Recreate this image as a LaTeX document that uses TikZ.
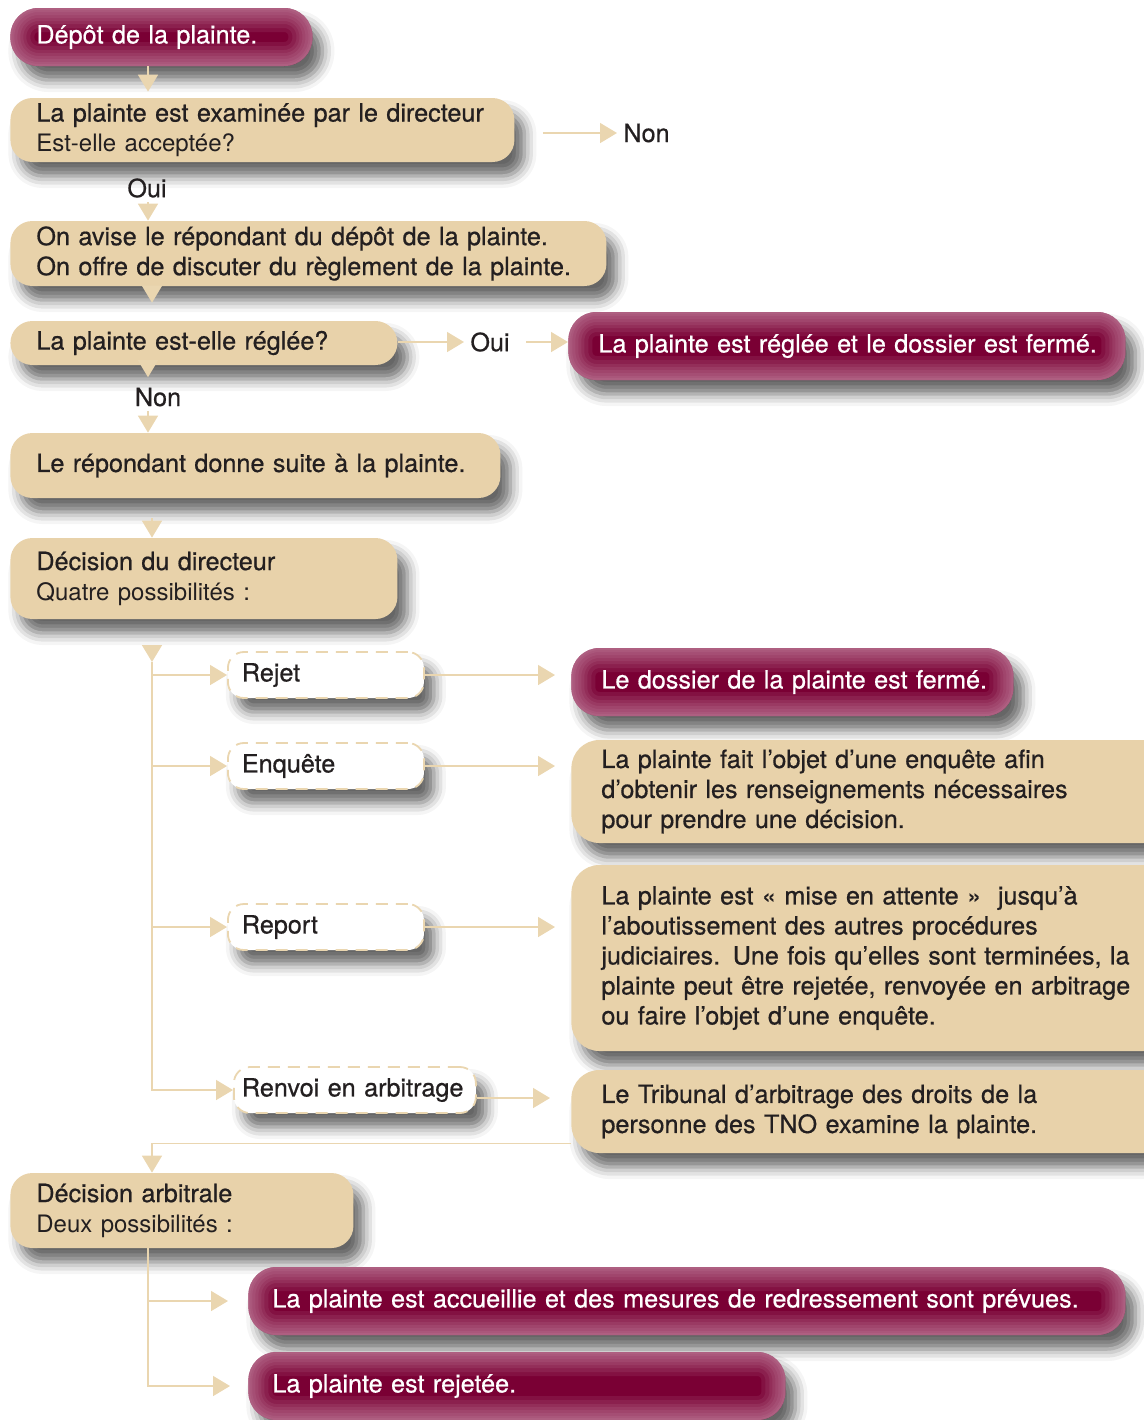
\documentclass[tikz,border=0pt]{standalone}
\usepackage{fontspec}
\setmainfont{TeX Gyre Heros}
\newfontfamily\medium{TeX Gyre Heros}[FakeBold=0.6]
\usetikzlibrary{arrows.meta, shadows.blur, positioning}
\definecolor{tanfill}{RGB}{232,210,170}
\definecolor{tanline}{RGB}{234,214,176}
\definecolor{wine}{RGB}{122,0,52}
\definecolor{rim}{RGB}{212,160,184}
\definecolor{ink}{RGB}{35,31,32}
\newcommand\mainsize{\fontsize{12.6pt}{15pt}\selectfont}
\newcommand\lite[1]{{\normalfont\fontsize{12pt}{15pt}\selectfont #1}}

\tikzset{
  softshadow/.style={blur shadow={shadow xshift=5pt, shadow yshift=-7pt, shadow blur radius=6pt, shadow opacity=60}},
  tanbox/.style={softshadow, fill=tanfill, rounded corners=11pt, anchor=west, align=left, inner xsep=13pt, inner ysep=0pt, text=ink, font=\medium\mainsize},
  winebox/.style={softshadow, fill=wine, rounded corners=14pt, anchor=west, align=left, inner xsep=13pt, inner ysep=0pt, text=white, font=\medium\mainsize,
    path picture={
      \foreach \rimw in {24pt, 20pt, 16pt, 13pt, 10pt, 7pt, 4pt, 2pt}
        \draw[rim, line width=\rimw, opacity=0.11, rounded corners=14pt] (path picture bounding box.south west) rectangle (path picture bounding box.north east);}},
  optbox/.style={softshadow, fill=white, draw=tanline, line width=0.9pt, dash pattern=on 6pt off 4pt, rounded corners=8pt, anchor=west, align=left, inner xsep=7pt, inner ysep=0pt, text=ink, font=\medium\mainsize},
  link/.style={draw=tanline, line width=0.8pt, -{Triangle[width=10pt,length=8.5pt]}},
  tag/.style={inner sep=2pt, text=ink, font=\medium\mainsize}
}

\begin{document}
\begin{tikzpicture}[x=0.5pt, y=-0.5pt]
  \useasboundingbox (0,0) rectangle (1144,1420);
  \coordinate (c1) at (148,0);
  \coordinate (c2) at (152,0);

  % left column
  \node[winebox, text width=125pt, minimum height=29pt] (dep) at (10,37) {Dépôt de la plainte.};
  \node[tanbox, text width=226pt, minimum height=32pt] (exam) at (10,130) {La plainte est examinée par le directeur\\\lite{Est-elle acceptée?}};
  \node[tag, anchor=west] (non1) at (619,133) {Non};
  \node[tag] (oui1) at (147,188) {Oui};
  \node[tanbox, text width=272pt, minimum height=32.5pt] (avise) at (10,253.5) {On avise le répondant du dépôt de la plainte.\\On offre de discuter du règlement de la plainte.};
  \node[tanbox, text width=167.5pt, minimum height=22pt] (regl) at (10,343) {La plainte est-elle réglée?};
  \node[tag, anchor=west] (oui2) at (466,342) {Oui};
  \node[winebox, inner xsep=15pt, text width=248.5pt, minimum height=34pt] (regfer) at (568,346) {\mbox{La plainte est réglée et le dossier est fermé.}};
  \node[tag] (non2) at (158,397) {Non};
  \node[tanbox, text width=219pt, minimum height=32.5pt] (repond) at (10,465.5) {Le répondant donne suite à la plainte.};
  \node[tanbox, text width=167.5pt, minimum height=40.5pt] (decdir) at (10,578.5) {Décision du directeur\\\lite{Quatre possibilités :}};

  % four options
  \node[optbox, text width=84pt, minimum height=23pt] (rejet) at (227,675) {Rejet};
  \node[optbox, text width=84pt, minimum height=23pt] (enq) at (227,766) {Enquête};
  \node[optbox, text width=84pt, minimum height=23pt] (report) at (227,927) {Report};
  \node[optbox, inner xsep=4pt, text width=113pt, minimum height=23pt] (renvoi) at (233,1090) {Renvoi en arbitrage};

  % right column
  \node[winebox, inner xsep=15pt, text width=191pt, minimum height=34pt] (ferme) at (571,682) {\mbox{Le dossier de la plainte est fermé.}};
  \node[tanbox, inner xsep=15pt, text width=270pt, minimum height=51.5pt, rounded corners=14pt] (enqtxt) at (571,791.5) {La plainte fait l’objet d’une enquête afin\\d’obtenir les renseignements nécessaires\\pour prendre une décision.};
  \node[tanbox, inner xsep=15pt, text width=270pt, minimum height=93pt, rounded corners=14pt] (reptxt) at (571,958) {La plainte est « mise en attente »\ \ jusqu’à\\l’aboutissement des autres procédures\\judiciaires. Une fois qu’elles sont terminées, la\\plainte peut être rejetée, renvoyée en arbitrage\\ou faire l’objet d’une enquête.};
  \node[tanbox, inner xsep=15pt, text width=270pt, minimum height=41.5pt, rounded corners=14pt] (trib) at (571,1111.5) {Le Tribunal d’arbitrage des droits de la\\personne des TNO examine la plainte.};

  % arbitration
  \node[tanbox, text width=145.5pt, minimum height=37.5pt] (decarb) at (10,1210.5) {Décision arbitrale\\\lite{Deux possibilités :}};
  \node[winebox, inner xsep=12pt, text width=414.5pt, minimum height=34pt] (accueil) at (248,1301) {La plainte est accueillie et des mesures de redressement sont prévues.};
  \node[winebox, inner xsep=12pt, text width=244.5pt, minimum height=34pt] (rejetee) at (248,1386) {La plainte est rejetée.};

  % connectors
  \draw[link, shorten >=3pt] (dep.south -| c1) -- (exam.north -| c1);
  \draw[link, shorten <=14pt, shorten >=1pt] (exam.east |- non1.west) -- (non1.west);
  \draw[link] (oui1.south -| c1) -- (avise.north -| c1);
  \draw[link, shorten >=9pt] (avise.south -| c2) -- (regl.north -| c2);
  \draw[link, shorten >=1pt] (regl.east |- oui2.west) -- (oui2.west);
  \draw[link, shorten <=6pt] (oui2.east) -- (oui2.east -| regfer.west);
  \draw[link, shorten >=3pt] (regl.south -| c1) -- (non2.north -| c1);
  \draw[link] (non2.south -| c1) -- (repond.north -| c1);
  \draw[link, shorten <=10pt] (repond.south -| c2) -- (decdir.north -| c2);

  \coordinate (s0) at (152,662);
  \draw[link, shorten <=14pt] (decdir.south -| s0) -- (s0);
  \draw[link] (s0) |- (renvoi.west);
  \foreach \opt in {rejet, enq, report}
    \draw[link] (s0 |- \opt.west) -- (\opt.west);

  \foreach \opt/\res in {rejet/ferme, enq/enqtxt, report/reptxt}
    \draw[link, shorten >=8pt] (\opt.east) -- (\opt.east -| \res.west);
  \draw[link, shorten >=10.5pt] ([yshift=-4pt]renvoi.east) -- ([yshift=-4pt]renvoi.east -| trib.west);

  \draw[link] ([yshift=5pt]trib.south west) -| (decarb.north -| c2);
  \draw[link, shorten >=10pt] (decarb.south -| c1) |- (accueil.west);
  \draw[link, shorten >=9pt] (decarb.south -| c1) |- (rejetee.west);
\end{tikzpicture}
\end{document}
